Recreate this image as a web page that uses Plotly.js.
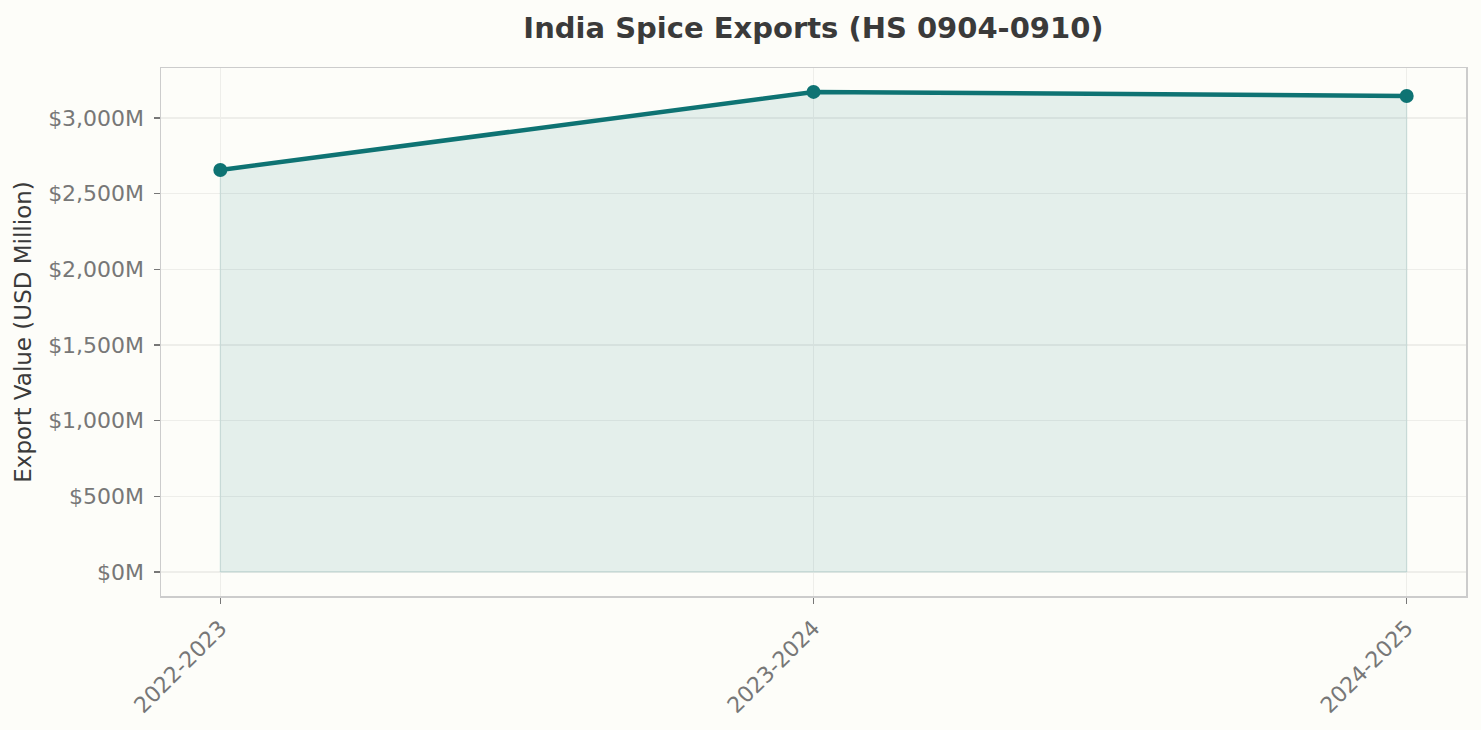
<!DOCTYPE html>
<html><head><meta charset="utf-8">
<script src="https://cdn.plot.ly/plotly-3.0.1.min.js"></script>
<style>html,body{margin:0;padding:0;background:#fdfdf9;overflow:hidden;}#c{width:1481px;height:730px;}</style>
</head><body><div id="c"></div>
<script>
const years = ["2022-2023", "2023-2024", "2024-2025"];
const exportValues = [2656, 3172, 3145];
const yTickVals = [0, 500, 1000, 1500, 2000, 2500, 3000];
const yTickText = ["$0M", "$500M", "$1,000M", "$1,500M", "$2,000M", "$2,500M", "$3,000M"];

const teal = "#0e7373";
const trace = {
  x: years, y: exportValues, type: "scatter", mode: "lines+markers",
  line: {color: teal, width: 4.5},
  marker: {color: teal, size: 14},
  fill: "tozeroy", fillcolor: "rgba(14,115,115,0.1)",
  hoverinfo: "x+y", cliponaxis: false
};
const edge = {
  x: [years[0], years[0], null, years[2], years[2], null, years[0], years[2]],
  y: [0, exportValues[0], null, 0, exportValues[2], null, 0, 0],
  type: "scatter", mode: "lines",
  line: {color: "rgba(14,115,115,0.1)", width: 1.5}, hoverinfo: "skip"
};
const layout = {
  width: 1481, height: 730, autosize: false,
  paper_bgcolor: "#fdfdf9", plot_bgcolor: "#fdfdf9",
  font: {family: "DejaVu Sans", color: "#777"},
  showlegend: false,
  margin: {l: 161, r: 15, t: 68, b: 134, autoexpand: false},
  title: {text: "<b>India Spice Exports (HS 0904-0910)</b>", xref: "paper", x: 0.5, xanchor: "center", y: 0.962, yanchor: "middle",
          font: {family: "DejaVu Sans", size: 29, color: "#3a3a3a"}},
  xaxis: {
    type: "category", range: [-0.1, 2.1], tickangle: -45, automargin: false,
    tickfont: {size: 22, color: "#777"}, ticklabelstandoff: 3,
    showgrid: true, gridcolor: "#eeeeea", gridwidth: 1.2,
    ticks: "outside", ticklen: 6, tickcolor: "#777", tickwidth: 1.5,
    showline: true, linecolor: "#cccccc", linewidth: 1.5, mirror: true,
    zeroline: false
  },
  yaxis: {
    range: [-158, 3330], automargin: false,
    tickvals: yTickVals, ticktext: yTickText,
    tickfont: {size: 22, color: "#777"}, ticklabelstandoff: 5,
    showgrid: true, gridcolor: "#eeeeea", gridwidth: 1.2,
    ticks: "outside", ticklen: 6, tickcolor: "#777", tickwidth: 1.5,
    showline: true, linecolor: "#cccccc", linewidth: 1.5, mirror: true,
    zeroline: false,
    title: {text: "Export Value (USD Million)", font: {size: 23, color: "#3a3a3a"}, standoff: 10}
  }
};
Plotly.newPlot("c", [trace, edge], layout, {displayModeBar: false, staticPlot: true});
</script></body></html>
